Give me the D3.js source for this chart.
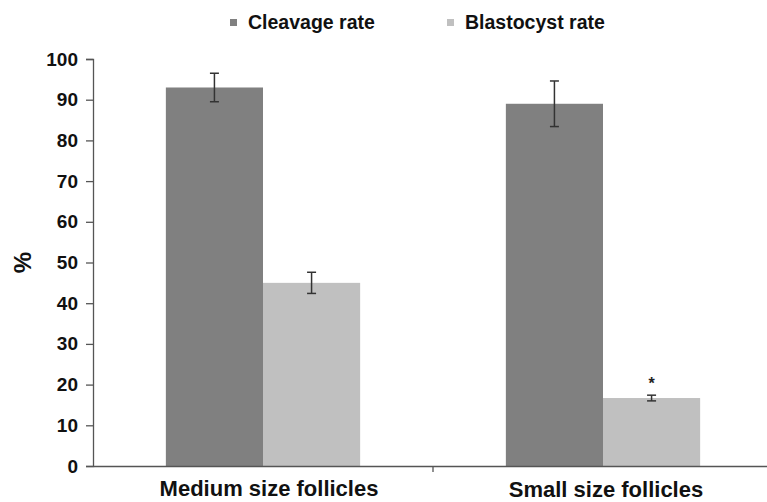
<!DOCTYPE html>
<html>
<head>
<meta charset="utf-8">
<script src="https://cdn.jsdelivr.net/npm/d3@7"></script>
<style>
  body { margin: 0; background: #fff; }
  svg { display: block; font-family: "Liberation Sans", Arial, sans-serif; }
</style>
</head>
<body>
<svg id="chart" width="767" height="502"></svg>
<script>
const categories = ['Medium size follicles', 'Small size follicles'];
const seriesNames = ['Cleavage rate', 'Blastocyst rate'];
const cleavageRate = [93, 89];
const cleavageErr = [3.5, 5.6];
const blastocystRate = [45, 16.7];
const blastocystErr = [2.6, 0.7];
const significant = [false, true]; // '*' over blastocyst bar
const yTicks = [0, 10, 20, 30, 40, 50, 60, 70, 80, 90, 100];

const colors = ['#808080', '#c0c0c0'];

const svg = d3.select('#chart');
const margin = { top: 59, left: 93, bottom: 36 };
const height = 502;
const plotBottom = height - margin.bottom;

const x0 = d3.scaleBand()
  .domain(categories)
  .range([margin.left, margin.left + 680])
  .paddingInner(0)
  .paddingOuter(0);

const x1 = d3.scaleBand()
  .domain(seriesNames)
  .range([0, x0.bandwidth()])
  .paddingOuter(0.75)
  .paddingInner(0);

const y = d3.scaleLinear()
  .domain([0, 100])
  .range([plotBottom, margin.top]);

const data = categories.map((c, i) => ({
  category: c,
  sig: significant[i],
  values: [
    { name: seriesNames[0], value: cleavageRate[i], err: cleavageErr[i] },
    { name: seriesNames[1], value: blastocystRate[i], err: blastocystErr[i] }
  ]
}));

// bars
const group = svg.append('g')
  .selectAll('g')
  .data(data)
  .enter().append('g')
  .attr('transform', d => `translate(${x0(d.category)},0)`);

group.selectAll('rect')
  .data(d => d.values)
  .enter().append('rect')
  .attr('x', d => x1(d.name))
  .attr('y', d => y(d.value))
  .attr('width', x1.bandwidth())
  .attr('height', d => plotBottom - y(d.value))
  .attr('fill', (d, i) => colors[i]);

// error bars
const err = group.selectAll('g.err')
  .data(d => d.values)
  .enter().append('g')
  .attr('class', 'err')
  .attr('stroke', '#333')
  .attr('stroke-width', 1.5);

err.append('line')
  .attr('x1', d => x1(d.name) + x1.bandwidth() / 2)
  .attr('x2', d => x1(d.name) + x1.bandwidth() / 2)
  .attr('y1', d => y(d.value + d.err))
  .attr('y2', d => y(d.value - d.err));

[1, -1].forEach(s => {
  err.append('line')
    .attr('x1', d => x1(d.name) + x1.bandwidth() / 2 - 4.5)
    .attr('x2', d => x1(d.name) + x1.bandwidth() / 2 + 4.5)
    .attr('y1', d => y(d.value + s * d.err))
    .attr('y2', d => y(d.value + s * d.err));
});

// significance marker
group.filter(d => d.sig)
  .append('text')
  .attr('x', x1(seriesNames[1]) + x1.bandwidth() / 2)
  .attr('y', d => y(d.values[1].value + d.values[1].err) - 6)
  .attr('text-anchor', 'middle')
  .attr('font-size', 16)
  .attr('font-weight', 'bold')
  .attr('fill', '#222')
  .text('*');

// y axis
const yAxis = svg.append('g')
  .attr('transform', `translate(${margin.left},0)`)
  .call(d3.axisLeft(y).tickValues(yTicks).tickSize(7).tickPadding(8));
yAxis.select('.domain').attr('stroke', '#555').attr('stroke-width', 1.3);
yAxis.selectAll('.tick line').attr('stroke', '#555').attr('stroke-width', 1.3);
yAxis.selectAll('.tick text')
  .attr('font-size', 19)
  .attr('font-weight', 'bold')
  .attr('fill', '#111')
  .attr('font-family', '"Liberation Sans", Arial, sans-serif');

svg.append('text')
  .attr('transform', `translate(31,${(margin.top + plotBottom) / 2}) rotate(-90)`)
  .attr('text-anchor', 'middle')
  .attr('font-size', 24)
  .attr('font-weight', 'bold')
  .attr('fill', '#111')
  .text('%');

// x axis
const xAxis = svg.append('g')
  .attr('transform', `translate(0,${plotBottom})`)
  .call(d3.axisBottom(x0).tickValues([]).tickSizeOuter(0));
xAxis.select('.domain').attr('stroke', '#555').attr('stroke-width', 1.3);
xAxis.selectAll('.sep')
  .data([categories[1]])
  .enter().append('line')
  .attr('x1', d => x0(d)).attr('x2', d => x0(d))
  .attr('y1', 0).attr('y2', 6)
  .attr('stroke', '#555').attr('stroke-width', 1.3);

const labelShift = [6, 3];
svg.append('g').selectAll('text')
  .data(categories)
  .enter().append('text')
  .attr('x', (d, i) => x0(d) + x0.bandwidth() / 2 + labelShift[i])
  .attr('y', (d, i) => 496 + i)
  .attr('text-anchor', 'middle')
  .attr('font-size', 22)
  .attr('font-weight', 'bold')
  .attr('fill', '#111')
  .text(d => d);

// legend
const legendX = [230, 447];
const legend = svg.append('g').selectAll('g')
  .data(seriesNames)
  .enter().append('g')
  .attr('transform', (d, i) => `translate(${legendX[i]},19)`);
legend.append('rect')
  .attr('width', 7).attr('height', 7)
  .attr('y', 0)
  .attr('fill', (d, i) => colors[i]);
legend.append('text')
  .attr('x', 18)
  .attr('y', 10)
  .attr('font-size', 19.5)
  .attr('font-weight', 'bold')
  .attr('fill', '#111')
  .text(d => d);
</script>
</body>
</html>
